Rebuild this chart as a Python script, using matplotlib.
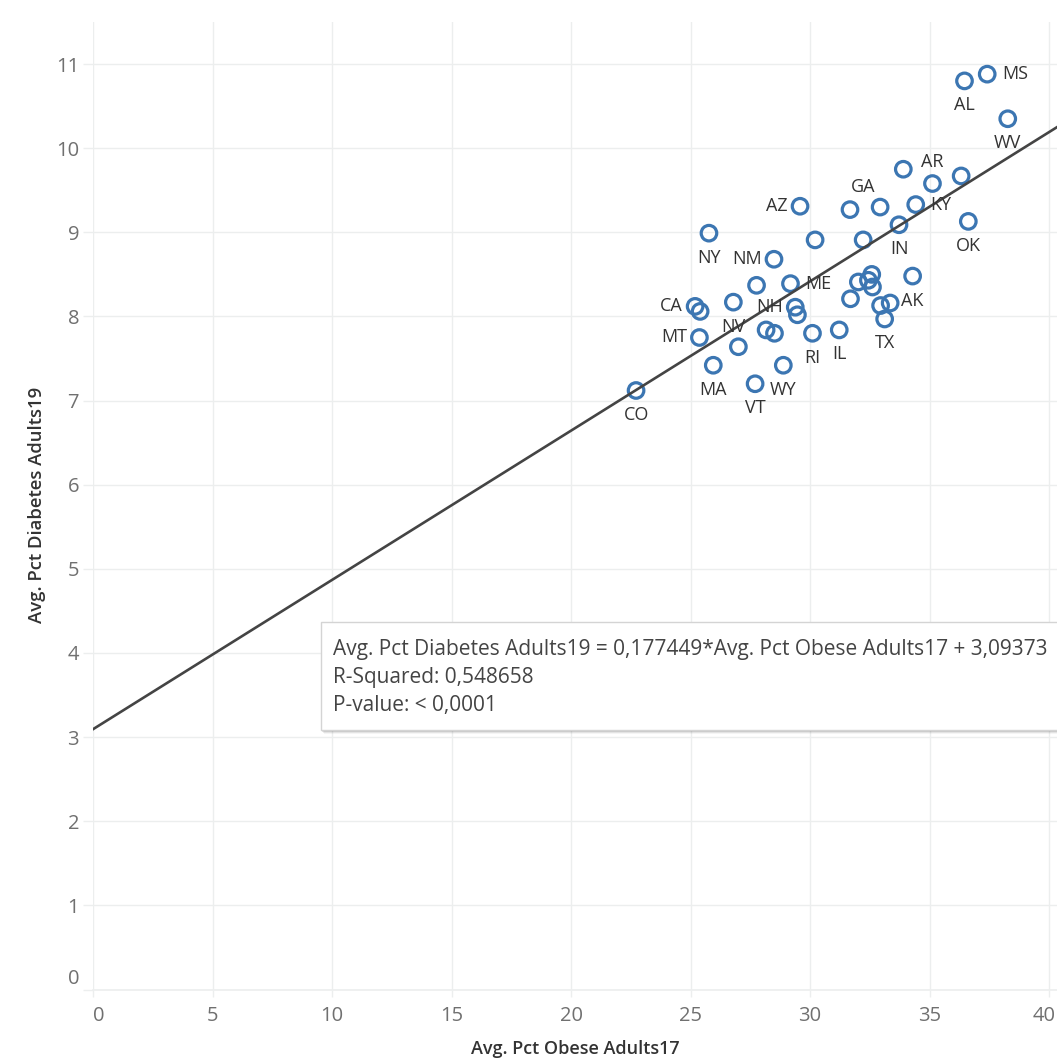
import matplotlib
matplotlib.use("Agg")
import matplotlib.pyplot as plt
from matplotlib.patches import Rectangle
from matplotlib.transforms import ScaledTranslation

plt.rcParams['font.family'] = ['Open Sans', 'DejaVu Sans']

# ---- data ----
obese17 = [37.41, 36.46, 38.27, 33.90, 35.12, 36.32, 36.62, 31.67, 32.93, 34.42,
           29.58, 33.72, 30.21, 32.22, 25.77, 28.49, 27.76, 29.18, 32.02, 32.58,
           32.44, 32.61, 34.29, 31.69, 25.19, 25.40, 26.79, 29.38, 29.47, 32.95,
           33.35, 33.12, 25.37, 28.16, 28.51, 30.10, 31.22, 27.00, 25.95, 28.88,
           27.70, 22.72]
diabetes19 = [10.88, 10.80, 10.35, 9.75, 9.58, 9.67, 9.13, 9.27, 9.30, 9.33,
              9.31, 9.09, 8.91, 8.91, 8.99, 8.68, 8.37, 8.39, 8.41, 8.50,
              8.43, 8.35, 8.48, 8.21, 8.12, 8.06, 8.17, 8.11, 8.02, 8.13,
              8.16, 7.97, 7.75, 7.84, 7.80, 7.80, 7.84, 7.64, 7.42, 7.42,
              7.20, 7.12]
labels = ['MS', 'AL', 'WV', '', 'AR', '', 'OK', 'GA', '', 'KY',
          'AZ', 'IN', '', '', 'NY', 'NM', '', 'ME', '', '',
          '', '', 'AK', '', 'CA', '', 'NV', 'NH', '', '',
          '', 'TX', 'MT', '', '', 'RI', 'IL', '', 'MA', 'WY',
          'VT', 'CO']
label_side = {'MS': 'right', 'AL': 'below', 'WV': 'below', 'AR': 'above',
              'OK': 'below', 'GA': 'above_r', 'KY': 'right', 'AZ': 'left',
              'IN': 'below', 'NY': 'below', 'NM': 'left', 'ME': 'right',
              'AK': 'below', 'CA': 'left', 'NV': 'below', 'NH': 'left',
              'TX': 'below', 'MT': 'left', 'RI': 'below', 'IL': 'below',
              'MA': 'below', 'WY': 'below', 'VT': 'below', 'CO': 'below'}

slope = 0.177449
intercept = 3.09373
r_squared = "0,548658"
p_value = "< 0,0001"

x_ticks = [0, 5, 10, 15, 20, 25, 30, 35, 40]
y_ticks = [0, 1, 2, 3, 4, 5, 6, 7, 8, 9, 10, 11]
x_title = "Avg. Pct Obese Adults17"
y_title = "Avg. Pct Diabetes Adults19"

# ---- figure ----
W, H = 1057, 1058
fig = plt.figure(figsize=(W / 100, H / 100), dpi=100)
left_px, right_px, top_px, bottom_px = 93, 1057, 22, 989.5
ax = fig.add_axes([left_px / W, 1 - bottom_px / H,
                   (right_px - left_px) / W, (bottom_px - top_px) / H])
ax.set_xlim(0, 40.33)
ax.set_ylim(0, 11.5)

grid_c = '#eceeee'
ax.set_xticks(x_ticks)
ax.set_yticks(y_ticks)
ax.grid(True, color=grid_c, lw=1.0, zorder=0)
ax.set_axisbelow(True)
for s in ['top', 'right', 'left']:
    ax.spines[s].set_visible(False)
ax.spines['bottom'].set_color(grid_c)
ax.spines['bottom'].set_linewidth(1.2)
ax.tick_params(axis='both', colors=grid_c, labelcolor='#707070', labelsize=14.5)
ax.tick_params(axis='y', length=7, width=1, pad=3)
ax.tick_params(axis='x', length=5, width=1, pad=7)

fig.canvas.draw()
xl = ax.get_xticklabels()
xl[0].set_horizontalalignment('left')
xl[-1].set_horizontalalignment('right')
xl[-1].set_transform(xl[-1].get_transform() + ScaledTranslation(0.07, 0, fig.dpi_scale_trans))
yl = ax.get_yticklabels()
yl[0].set_transform(yl[0].get_transform() + ScaledTranslation(0, 0.13, fig.dpi_scale_trans))

# points
ax.scatter(obese17, diabetes19, s=125, facecolors='none', edgecolors='#3C76B2',
           linewidths=2.3, zorder=3)

# regression line
xs = [0, 40.33]
ax.plot(xs, [slope * v + intercept for v in xs], color='#444444', lw=1.9, zorder=4)

# labels
offsets = {'below': (0, -24.5, 'center'), 'above': (0, 22, 'center'),
           'above_r': (13, 23, 'center'), 'left': (-12, 0, 'right'),
           'right': (15, 0, 'left')}
for xv, yv, lab in zip(obese17, diabetes19, labels):
    if not lab:
        continue
    dx, dy, ha = offsets[label_side[lab]]
    ax.annotate(lab, (xv, yv), xytext=(dx, dy), textcoords='offset pixels',
                ha=ha, va='center', fontsize=13, color='#333333', zorder=5)

# axis titles
fig.text(37 / W, 1 - 505 / H, y_title, rotation=90, ha='center', va='center',
         fontsize=13.3, fontweight='semibold', color='#333333')
fig.text(575 / W, 1 - 1049 / H, x_title, ha='center', va='center',
         fontsize=13, fontweight='semibold', color='#333333')

# trend line info box with soft shadow
bx0, by_top, by_bot = 321, 622, 730
for i, a in enumerate([0.10, 0.07, 0.04]):
    d = i + 1
    fig.patches.append(Rectangle(((bx0 + d) / W, 1 - (by_bot + d + 1) / H),
                                 1.1, (by_bot - by_top) / H,
                                 transform=fig.transFigure, facecolor='#000000',
                                 edgecolor='none', alpha=a, zorder=6))
fig.patches.append(Rectangle((bx0 / W, 1 - by_bot / H), 1.1, (by_bot - by_top) / H,
                             transform=fig.transFigure, facecolor='white',
                             edgecolor='#d4d4d4', lw=1, zorder=7))
eq = (y_title + " = " + f"{slope}".replace('.', ',') + "*" + x_title + " + "
      + f"{intercept}".replace('.', ','))
box_lines = [eq, "R-Squared: " + r_squared, "P-value: " + p_value]
for i, t in enumerate(box_lines):
    fig.text(333 / W, 1 - (650 + 27.5 * i) / H, t, ha='left', va='center',
             fontsize=15, color='#444444', zorder=8)

fig.savefig('out.png', dpi=100)
